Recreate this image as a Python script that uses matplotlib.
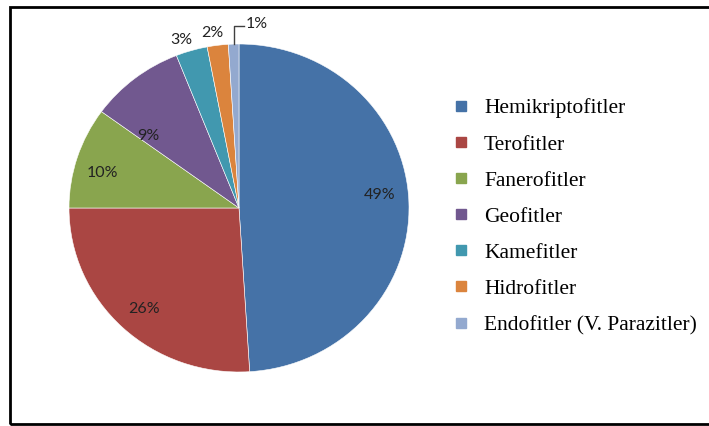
import numpy as np
import matplotlib.pyplot as plt
from matplotlib.lines import Line2D
from matplotlib.patches import Rectangle

# dados do grafico
categorias = ['Hemikriptofitler', 'Terofitler', 'Fanerofitler', 'Geofitler',
              'Kamefitler', 'Hidrofitler', 'Endofitler (V. Parazitler)']
porcentagens = [49, 26, 10, 9, 3, 2, 1]
cores = ['#4572A7', '#AA4643', '#89A54E', '#71588F', '#4198AF', '#DB843D', '#93A9CF']

fig = plt.figure(figsize=(7.09, 4.26), dpi=100)

# moldura
fig.patches.append(Rectangle((10 / 709, 2 / 426), 1.0, 417 / 426, transform=fig.transFigure,
                             fill=False, edgecolor='black', linewidth=2))

# pizza levemente eliptica como no excel
ax = fig.add_axes([69 / 709, 54 / 426, 340 / 709, 328 / 426])
wedges, _ = ax.pie(porcentagens, colors=cores, startangle=90, counterclock=False,
                   wedgeprops=dict(edgecolor='white', linewidth=0.4))
ax.set_aspect('auto')
ax.set_xlim(-1, 1)
ax.set_ylim(-1, 1)

# distancia e ajuste de angulo dos rotulos
distancias = [0.83, 0.83, 0.83, 0.69, 1.08, 1.08, 1.0]
desvios = [3.5, 1, 3, 13, 2, 1, 0]
for i, w in enumerate(wedges):
    ang = np.deg2rad((w.theta1 + w.theta2) / 2 + desvios[i])
    txt = f'{porcentagens[i]}%'
    if i == len(wedges) - 1:
        x0, y0 = np.cos(ang), np.sin(ang)
        ax.plot([x0, x0, x0 + 0.06], [y0, y0 + 0.11, y0 + 0.11], color='#404040', lw=1, clip_on=False)
        ax.text(x0 + 0.07, y0 + 0.12, txt, ha='left', va='center', fontsize=11.5,
                family='Lato', color='#222222', clip_on=False)
        continue
    d = distancias[i]
    ax.text(d * np.cos(ang), d * np.sin(ang), txt, ha='center', va='center',
            fontsize=11.5, family='Lato', color='#222222', clip_on=False)

# legenda
handles = [Line2D([], [], marker='s', linestyle='', markersize=7, color=c) for c in cores]
fig.legend(handles, categorias, loc='upper left', bbox_to_anchor=(433 / 709, 1 - 79 / 426),
           frameon=False, handletextpad=0.67, labelspacing=0.745, handlelength=0.8,
           prop=dict(family='Liberation Serif', size=15.5))

fig.savefig('out.png', dpi=100)
